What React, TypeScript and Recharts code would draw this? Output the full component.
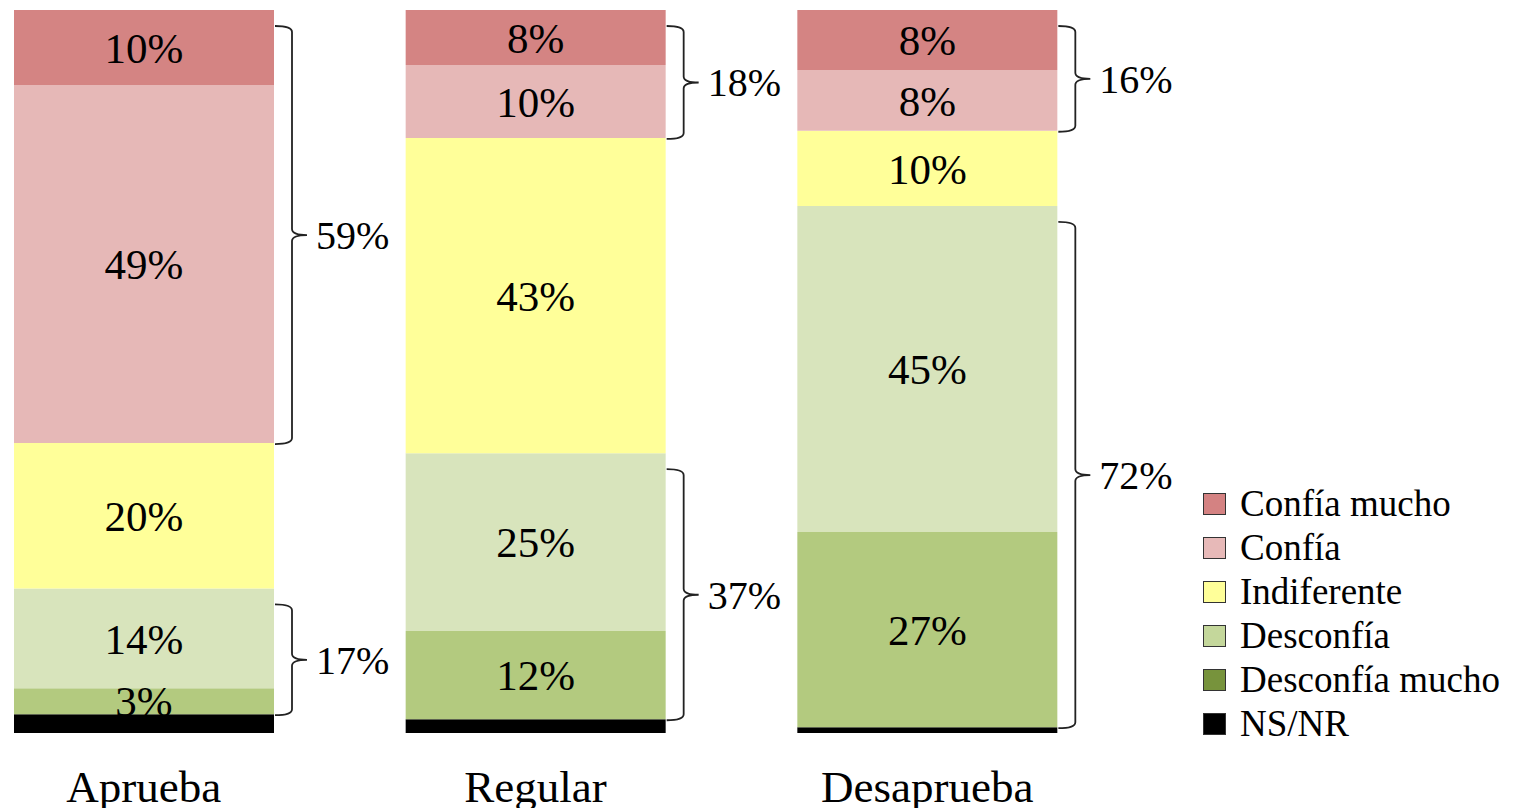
import { Bar, BarChart, LabelList, Legend, XAxis, YAxis } from "recharts"

const categories = ["Aprueba", "Regular", "Desaprueba"]

// segment heights (each column sums to 100)
const nsnr = [2.6, 1.9, 0.8]
const desconfiaMucho = [3.6, 12.2, 27.0]
const desconfia = [13.8, 24.6, 45.1]
const indiferente = [20.1, 43.6, 10.4]
const confia = [49.5, 10.1, 8.4]
const confiaMucho = [10.4, 7.6, 8.3]

// printed labels
const desconfiaMuchoLabel = [3, 12, 27]
const desconfiaLabel = [14, 25, 45]
const indiferenteLabel = [20, 43, 10]
const confiaLabel = [49, 10, 8]
const confiaMuchoLabel = [10, 8, 8]

// bracket totals
const confianzaTotal = [59, 18, 16]
const desconfianzaTotal = [17, 37, 72]

const legendItems = [
  { name: "Confía mucho", color: "#d48282" },
  { name: "Confía", color: "#e7b9b8" },
  { name: "Indiferente", color: "#ffff99" },
  { name: "Desconfía", color: "#c4d79b" },
  { name: "Desconfía mucho", color: "#77933c" },
  { name: "NS/NR", color: "#000000" },
]

const data = categories.map((name, i) => ({
  name,
  nsnr: nsnr[i],
  dm: desconfiaMucho[i],
  d: desconfia[i],
  ind: indiferente[i],
  c: confia[i],
  cm: confiaMucho[i],
  dmLabel: desconfiaMuchoLabel[i],
  dLabel: desconfiaLabel[i],
  indLabel: indiferenteLabel[i],
  cLabel: confiaLabel[i],
  cmLabel: confiaMuchoLabel[i],
}))

const font = "'Liberation Serif', 'Times New Roman', serif"

// curly bracket to the right of a segment, stretched over the segment below/above it
function makeBracket(totals: number[], ownKey: "cm" | "d", otherKey: "c" | "dm") {
  return (props: any) => {
    const vb = props.viewBox ?? props
    const x = Number(props.x ?? vb.x)
    const y = Number(props.y ?? vb.y)
    const w = Number(props.width ?? vb.width)
    const hRaw = Number(props.height ?? vb.height)
    const index = props.index as number
    const row = data[index]
    const top = Math.min(y, y + hRaw)
    const h = Math.abs(hRaw)
    const unit = h / row[ownKey]
    const span = (row[ownKey] + row[otherKey]) * unit
    const T = top + 16
    const B = top + span + 1
    const M = (T + B) / 2
    const x0 = x + w + 1
    const xv = x + w + 18
    const xt = x + w + 33
    const r = 6
    const d = `M ${x0} ${T} Q ${xv} ${T} ${xv} ${T + r} L ${xv} ${M - r} Q ${xv} ${M} ${xt} ${M} Q ${xv} ${M} ${xv} ${M + r} L ${xv} ${B - r} Q ${xv} ${B} ${x0} ${B}`
    return (
      <g key={`br-${ownKey}-${index}`}>
        <path d={d} fill="none" stroke="#222" strokeWidth={1.8} />
        <text x={xt + 9} y={M} dy="0.35em" fontSize={40} fontFamily={font} fill="#000">
          {`${totals[index]}%`}
        </text>
      </g>
    )
  }
}

function renderLegend() {
  return (
    <div style={{ fontFamily: font, fontSize: 37, color: "#000" }}>
      {legendItems.map((it) => (
        <div key={it.name} style={{ display: "flex", alignItems: "center", height: 44 }}>
          <span
            style={{
              display: "inline-block",
              width: 21,
              height: 20,
              background: it.color,
              border: "1.5px solid #333",
              marginRight: 14,
            }}
          />
          <span style={{ lineHeight: "44px", whiteSpace: "nowrap" }}>{it.name}</span>
        </div>
      ))}
    </div>
  )
}

const labelStyle = { fontFamily: font, fontSize: 43, fill: "#000" }
const pct = (v: any) => `${v}%`

export default function App() {
  return (
    <div style={{ fontFamily: font }}>
      <style>{`body{overflow:hidden}.recharts-surface{overflow:visible}`}</style>
      <BarChart
        width={1504}
        height={800}
        data={data}
        margin={{ top: 2, right: 389, bottom: 0, left: -60 }}
        barSize={260}
      >
        <XAxis
          dataKey="name"
          axisLine={false}
          tickLine={false}
          tickSize={0}
          tickMargin={37}
          height={75}
          tick={{ fontFamily: font, fontSize: 45, fill: "#000" }}
          interval={0}
        />
        <YAxis hide domain={[0, 100]} />
        <Legend
          layout="horizontal"
          verticalAlign="middle"
          align="center"
          content={renderLegend}
          wrapperStyle={{ left: 1195, top: 474, width: 320 }}
        />
        <Bar dataKey="nsnr" name="NS/NR" stackId="a" fill="#000000" isAnimationActive={false} />
        <Bar dataKey="dm" name="Desconfía mucho" stackId="a" fill="#b3ca7f" isAnimationActive={false}>
          <LabelList dataKey="dmLabel" position="center" formatter={pct} style={labelStyle} />
        </Bar>
        <Bar dataKey="d" name="Desconfía" stackId="a" fill="#d8e4bc" isAnimationActive={false}>
          <LabelList dataKey="dLabel" position="center" formatter={pct} style={labelStyle} />
          <LabelList dataKey="dLabel" content={makeBracket(desconfianzaTotal, "d", "dm")} />
        </Bar>
        <Bar dataKey="ind" name="Indiferente" stackId="a" fill="#ffff99" isAnimationActive={false}>
          <LabelList dataKey="indLabel" position="center" formatter={pct} style={labelStyle} />
        </Bar>
        <Bar dataKey="c" name="Confía" stackId="a" fill="#e6b8b7" isAnimationActive={false}>
          <LabelList dataKey="cLabel" position="center" formatter={pct} style={labelStyle} />
        </Bar>
        <Bar dataKey="cm" name="Confía mucho" stackId="a" fill="#d48483" isAnimationActive={false}>
          <LabelList dataKey="cmLabel" position="center" formatter={pct} style={labelStyle} />
          <LabelList dataKey="cmLabel" content={makeBracket(confianzaTotal, "cm", "c")} />
        </Bar>
      </BarChart>
    </div>
  )
}
